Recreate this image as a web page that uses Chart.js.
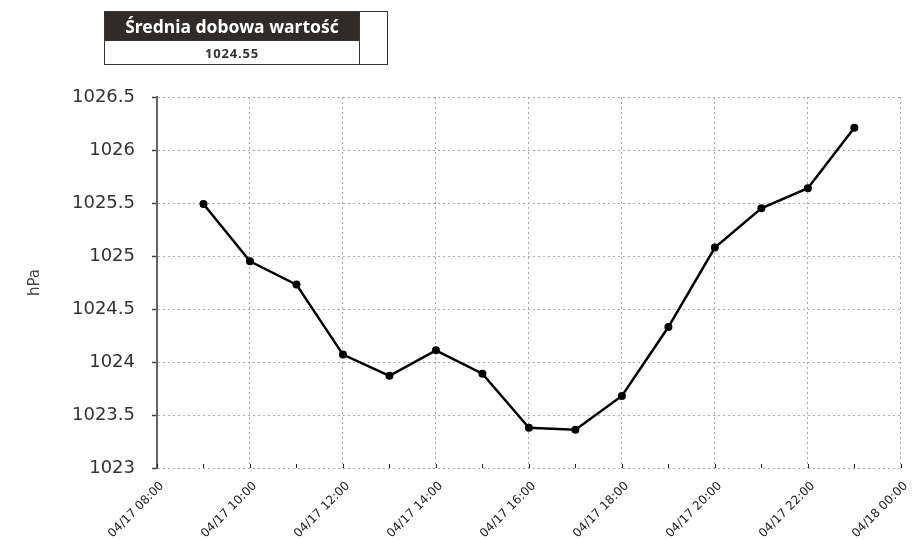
<!DOCTYPE html>
<html>
<head>
<meta charset="utf-8">
<script src="https://cdn.jsdelivr.net/npm/chart.js@4"></script>
<style>
  body { margin: 0; background: #fff; }
  #wrap { position: relative; width: 922px; height: 540px; }
  #chart { position: absolute; left: 0; top: 0; }
  .avg { position: absolute; left: 104px; top: 11px; border-collapse: collapse; font-family: "Noto Sans", sans-serif; }
  .avg td { border: 1px solid #333; padding: 0; text-align: center; }
  .avg .head { background: #2e2b29; color: #fff; font-weight: bold; font-size: 17.5px; width: 254px; height: 28px; }
  .avg .val { color: #333; font-weight: bold; font-size: 13px; letter-spacing: 0.8px; height: 23px; }
  .avg .side { width: 27px; background: #fff; }
</style>
</head>
<body>
<div id="wrap">
  <canvas id="chart" width="922" height="540"></canvas>
  <table class="avg">
    <tr><td class="head">Średnia dobowa wartość</td><td class="side" rowspan="2"></td></tr>
    <tr><td class="val" id="srednia"></td></tr>
  </table>
</div>
<script>
// godziny pomiarow (04/17) i cisnienie w hPa
const godziny = [9, 10, 11, 12, 13, 14, 15, 16, 17, 18, 19, 20, 21, 22, 23];
const cisnienie = [1025.49, 1024.95, 1024.73, 1024.07, 1023.87, 1024.11, 1023.89, 1023.38, 1023.36, 1023.68, 1024.33, 1025.08, 1025.45, 1025.64, 1026.21];
const etykietyX = ['04/17 08:00', '04/17 10:00', '04/17 12:00', '04/17 14:00', '04/17 16:00', '04/17 18:00', '04/17 20:00', '04/17 22:00', '04/18 00:00'];
const srednia = '1024.55';

document.getElementById('srednia').textContent = srednia;

// kreski podzialki od srodka osi X
const kreskiX = {
  id: 'kreskiX',
  afterDatasetsDraw(chart) {
    const sx = chart.scales.x;
    const ctx = chart.ctx;
    ctx.save();
    ctx.strokeStyle = '#222';
    ctx.lineWidth = 1;
    sx.ticks.forEach(t => {
      const px = Math.round(sx.getPixelForValue(t.value)) + 0.5;
      ctx.beginPath();
      ctx.moveTo(px, sx.top);
      ctx.lineTo(px, sx.top - 4);
      ctx.stroke();
    });
    ctx.restore();
  }
};

const ctx = document.getElementById('chart').getContext('2d');
new Chart(ctx, {
  type: 'line',
  data: {
    datasets: [{
      label: 'hPa',
      data: godziny.map((h, i) => ({ x: h, y: cisnienie[i] })),
      borderColor: '#000',
      backgroundColor: '#000',
      borderWidth: 2.5,
      pointRadius: 4,
      pointBackgroundColor: '#000',
      pointBorderWidth: 0,
      tension: 0
    }]
  },
  options: {
    responsive: false,
    animation: false,
    layout: { padding: { left: 22, top: 97, right: 18, bottom: 0 } },
    plugins: {
      legend: { display: false },
      tooltip: { enabled: false }
    },
    scales: {
      x: {
        type: 'linear',
        min: 8,
        max: 24,
        afterFit: s => { s.height = 72; },
        ticks: {
          stepSize: 1,
          autoSkip: false,
          maxRotation: 45,
          minRotation: 45,
          padding: 11,
          labelOffset: 5,
          color: '#222',
          font: { family: 'DejaVu Sans', size: 12 },
          callback: v => (v % 2 === 0 ? etykietyX[(v - 8) / 2] : '')
        },
        grid: {
          drawTicks: false,
          color: c => (c.tick && c.tick.value % 2 === 0 ? '#aaa' : 'rgba(0,0,0,0)'),
          lineWidth: 1
        },
        border: { display: false, dash: [2, 3] }
      },
      y: {
        min: 1023,
        max: 1026.5,
        afterFit: s => { s.width = 135; },
        title: {
          display: true,
          text: 'hPa',
          color: '#444',
          font: { family: 'DejaVu Sans', size: 15 }
        },
        ticks: {
          stepSize: 0.5,
          padding: 17,
          color: '#333',
          font: { family: 'DejaVu Sans', size: 18 },
          callback: v => String(v)
        },
        grid: {
          color: '#aaa',
          lineWidth: 1,
          tickLength: 5,
          tickColor: '#444',
          tickWidth: 1.5
        },
        border: { display: true, color: '#666', width: 2, dash: [2, 3] }
      }
    }
  },
  plugins: [kreskiX]
});
</script>
</body>
</html>
